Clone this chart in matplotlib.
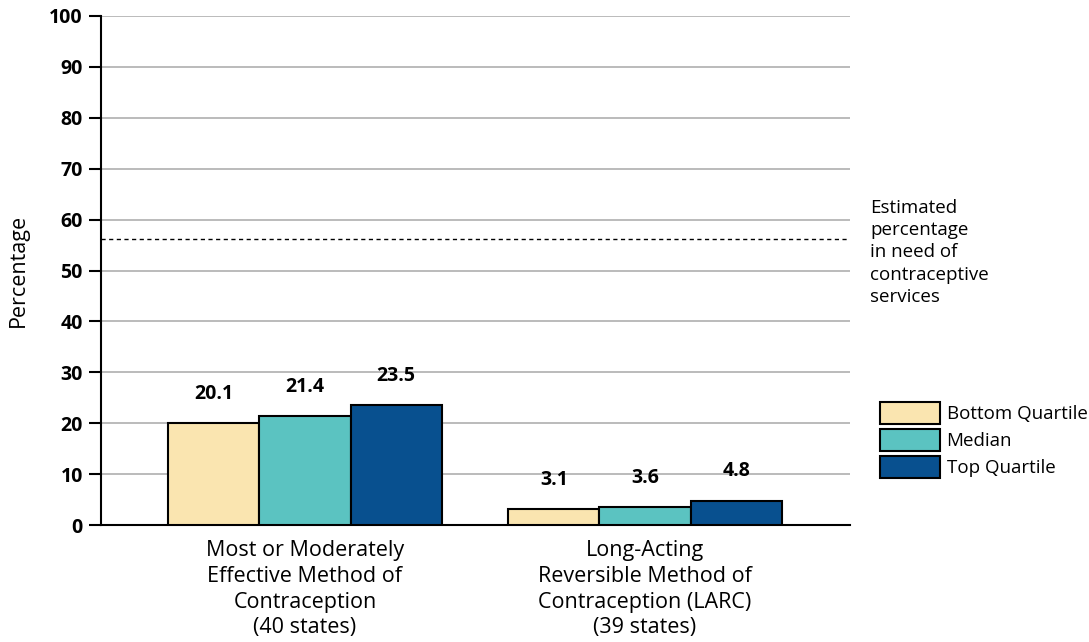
import numpy as np
import matplotlib
matplotlib.use("Agg")
from matplotlib import pyplot as plt

plt.rcParams["font.family"] = ["Open Sans", "DejaVu Sans"]

categories = [
    "Most or Moderately\nEffective Method of\nContraception\n(40 states)",
    "Long-Acting\nReversible Method of\nContraception (LARC)\n(39 states)",
]
series_names = ["Bottom Quartile", "Median", "Top Quartile"]
bottom_quartile = [20.1, 3.1]
median = [21.4, 3.6]
top_quartile = [23.5, 4.8]
need_level = 56.2
need_label = "Estimated\npercentage\nin need of\ncontraceptive\nservices"

colors = ["#FAE5B0", "#5BC3C1", "#08508F"]

fig = plt.figure(figsize=(10.89, 6.42), dpi=100)
ax = fig.add_axes([0.0927, 0.1822, 0.6878, 0.7929])

x = np.arange(len(categories))
width = 0.268
for i, (name, vals) in enumerate(zip(series_names, [bottom_quartile, median, top_quartile])):
    bars = ax.bar(x + (i - 1) * width, vals, width, color=colors[i], edgecolor="black",
                  linewidth=1.5, label=name, zorder=3)
    for b, v in zip(bars, vals):
        ax.annotate(f"{v:.1f}", (b.get_x() + b.get_width() / 2, v), xytext=(0, 21),
                    textcoords="offset points", ha="center", va="center",
                    fontsize=14, fontweight="bold")

# dashed reference line for the share of women needing services
ax.axhline(need_level, color="black", linestyle=(0, (3, 2.5)), linewidth=1, zorder=2)
fig.text(870 / 1089, 1 - 199 / 642, need_label, ha="left", va="top", fontsize=13.5,
         linespacing=1.3)

ax.set_ylim(0, 100)
ax.set_xlim(-0.6, 1.603)
ax.set_yticks(range(0, 101, 10))
ax.yaxis.grid(True, color="#b5b5b5", linewidth=1.3, zorder=0)
ax.set_axisbelow(True)
for lbl in ax.get_yticklabels():
    lbl.set_fontweight("bold")
ax.tick_params(axis="y", length=9, width=1.5, labelsize=14, direction="out", pad=4)
ax.tick_params(axis="x", length=0, labelsize=15.5, pad=11)
ax.set_xticks(x)
ax.set_xticklabels(categories, linespacing=1.29)
ax.set_ylabel("Percentage", fontsize=15.5, labelpad=15)

for s in ["top", "right"]:
    ax.spines[s].set_visible(False)
ax.spines["left"].set_linewidth(1.5)
ax.spines["bottom"].set_linewidth(1.5)

fig.legend(loc="upper left", bbox_to_anchor=(880 / 1089, 1 - 402 / 642), frameon=False,
           fontsize=13.5, handlelength=3.2, handleheight=1.45, handletextpad=0.35,
           labelspacing=0.25, borderaxespad=0, borderpad=0)

fig.savefig("out.png", dpi=100)
